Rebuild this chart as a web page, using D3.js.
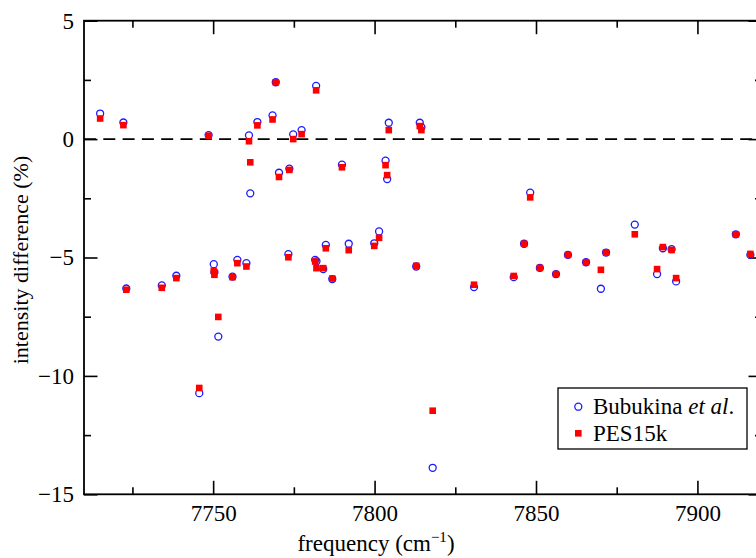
<!DOCTYPE html>
<html>
<head>
<meta charset="utf-8">
<script src="https://cdn.jsdelivr.net/npm/d3@7"></script>
<style>
  body { margin: 0; background: #fff; }
  svg { display: block; font-family: "Liberation Serif", "Times New Roman", serif; }
</style>
</head>
<body>
<div id="chart"></div>
<script>
// line frequencies (cm-1)
const freq = [7715.0, 7722.2, 7723.1, 7734.1, 7738.6, 7748.6, 7750.2, 7750.4, 7751.6, 7745.7,
  7756.0, 7757.5, 7760.3, 7761.1, 7761.5, 7763.7, 7768.4, 7769.4, 7770.4, 7773.3,
  7773.6, 7774.8, 7777.4, 7781.6, 7781.9, 7782.0, 7784.1, 7784.9, 7786.9, 7789.9,
  7792.0, 7799.9, 7801.4, 7803.4, 7803.9, 7804.4, 7812.9, 7814.0, 7814.5, 7818.0,
  7830.8, 7843.1, 7846.3, 7848.2, 7851.2, 7856.2, 7859.9, 7865.5, 7870.1, 7871.7,
  7880.6, 7887.5, 7889.3, 7892.0, 7893.4, 7911.9, 7916.4]
// intensity difference (%) vs Bubukina et al.
const bubukina = [1.08, 0.70, -6.31, -6.18, -5.77, 0.17, -5.28, -5.62, -8.34, -10.73,
  -5.81, -5.10, -5.24, 0.16, -2.29, 0.72, 1.00, 2.40, -1.42, -4.86,
  -1.25, 0.20, 0.38, -5.10, 2.25, -5.16, -5.49, -4.47, -5.91, -1.08,
  -4.42, -4.40, -3.90, -0.91, -1.69, 0.69, -5.38, 0.69, 0.50, -13.88,
  -6.25, -5.83, -4.42, -2.26, -5.44, -5.70, -4.89, -5.20, -6.32, -4.79,
  -3.61, -5.70, -4.61, -4.65, -6.01, -4.02, -4.89]
// intensity difference (%) PES15k
const pes15k = [0.87, 0.59, -6.36, -6.28, -5.87, 0.14, -5.56, -5.73, -7.51, -10.51,
  -5.83, -5.24, -5.38, -0.09, -0.98, 0.58, 0.83, 2.40, -1.60, -4.99,
  -1.30, 0.00, 0.21, -5.17, 2.06, -5.45, -5.45, -4.61, -5.89, -1.19,
  -4.69, -4.51, -4.17, -1.10, -1.52, 0.38, -5.35, 0.55, 0.38, -11.47,
  -6.15, -5.78, -4.42, -2.46, -5.44, -5.70, -4.89, -5.20, -5.52, -4.79,
  -4.02, -5.49, -4.56, -4.68, -5.87, -4.02, -4.85]

const xMajor = [7750, 7800, 7850, 7900]
const xMinor = [7725, 7775, 7825, 7875, 7925]
const yMajor = [5, 0, -5, -10, -15]
const yMinor = [2.5, -2.5, -7.5, -12.5]
const seriesNames = ["Bubukina", "PES15k"]

const width = 756, height = 558
const pLeft = 84, pRight = 762, pTop = 20.7, pBottom = 494.3
const blue = "#1a1aff", red = "#ff0000"
const serif = "Liberation Serif, Times New Roman, serif"

const svg = d3.select("#chart").append("svg")
  .attr("width", width)
  .attr("height", height)
  .attr("font-family", serif)

const x = d3.scaleLinear().domain([7710, 7920]).range([pLeft, pRight])
const y = d3.scaleLinear().domain([-15, 5]).range([pBottom, pTop])

const fmt = d3.format("d")

// axes, ticks pointing inward
function styleAxis(g) {
  g.attr("font-family", serif)
  g.selectAll("path.domain").remove()
  g.selectAll("line").attr("stroke", "#000").attr("stroke-width", 1.6)
  g.selectAll("text").attr("font-size", 23).attr("fill", "#000")
}

svg.append("g").attr("transform", `translate(0,${pBottom})`)
  .call(d3.axisBottom(x).tickValues(xMajor).tickFormat(fmt).tickSize(-13.5).tickPadding(10))
  .call(styleAxis)
svg.append("g").attr("transform", `translate(0,${pBottom})`)
  .call(d3.axisBottom(x).tickValues(xMinor).tickFormat("").tickSize(-7))
  .call(styleAxis)
svg.append("g").attr("transform", `translate(0,${pTop})`)
  .call(d3.axisTop(x).tickValues(xMajor).tickFormat("").tickSize(-13.5))
  .call(styleAxis)
svg.append("g").attr("transform", `translate(0,${pTop})`)
  .call(d3.axisTop(x).tickValues(xMinor).tickFormat("").tickSize(-7))
  .call(styleAxis)

svg.append("g").attr("transform", `translate(${pLeft},0)`)
  .call(d3.axisLeft(y).tickValues(yMajor).tickFormat(fmt).tickSize(-13.5).tickPadding(10))
  .call(styleAxis)
svg.append("g").attr("transform", `translate(${pLeft},0)`)
  .call(d3.axisLeft(y).tickValues(yMinor).tickFormat("").tickSize(-7))
  .call(styleAxis)
svg.append("g").attr("transform", `translate(${pRight},0)`)
  .call(d3.axisRight(y).tickValues(yMajor).tickFormat("").tickSize(-13.5))
  .call(styleAxis)
svg.append("g").attr("transform", `translate(${pRight},0)`)
  .call(d3.axisRight(y).tickValues(yMinor).tickFormat("").tickSize(-7))
  .call(styleAxis)

// frame
svg.append("rect")
  .attr("x", pLeft).attr("y", pTop)
  .attr("width", pRight - pLeft).attr("height", pBottom - pTop)
  .attr("fill", "none").attr("stroke", "#000").attr("stroke-width", 1.8)

// zero line
svg.append("line")
  .attr("x1", pLeft).attr("x2", pRight)
  .attr("y1", y(0)).attr("y2", y(0))
  .attr("stroke", "#000").attr("stroke-width", 1.6)
  .attr("stroke-dasharray", "12,7.3")

// points
const pts = freq.map((f, i) => ({ f: f, b: bubukina[i], p: pes15k[i] }))

svg.append("g").selectAll("circle")
  .data(pts)
  .join("circle")
  .attr("cx", d => x(d.f))
  .attr("cy", d => y(d.b))
  .attr("r", 3.5)
  .attr("fill", "none")
  .attr("stroke", blue)
  .attr("stroke-width", 1.3)

svg.append("g").selectAll("rect")
  .data(pts)
  .join("rect")
  .attr("x", d => x(d.f) - 3.3)
  .attr("y", d => y(d.p) - 3.3)
  .attr("width", 6.6)
  .attr("height", 6.6)
  .attr("fill", red)

// axis titles
svg.append("text")
  .attr("x", 376).attr("y", 551)
  .attr("text-anchor", "middle")
  .attr("font-size", 23)
  .html('frequency (cm<tspan dy="-9" font-size="15">−1</tspan><tspan dy="9">)</tspan>')

svg.append("text")
  .attr("transform", `translate(28,260) rotate(-90)`)
  .attr("text-anchor", "middle")
  .attr("font-size", 22)
  .text("intensity difference (%)")

// legend
const lg = svg.append("g")
lg.append("rect")
  .attr("x", 558).attr("y", 388)
  .attr("width", 189).attr("height", 61)
  .attr("fill", "#fff").attr("stroke", "#000").attr("stroke-width", 1.3)

lg.append("circle")
  .attr("cx", 578.3).attr("cy", 406.7).attr("r", 3.5)
  .attr("fill", "none").attr("stroke", blue).attr("stroke-width", 1.3)
lg.append("rect")
  .attr("x", 575).attr("y", 430).attr("width", 6.6).attr("height", 6.6)
  .attr("fill", red)

lg.append("text")
  .attr("x", 593).attr("y", 414)
  .attr("font-size", 23)
  .html('Bubukina <tspan font-style="italic">et al</tspan>.')
lg.append("text")
  .attr("x", 593).attr("y", 441)
  .attr("font-size", 23)
  .text(seriesNames[1])
</script>
</body>
</html>
